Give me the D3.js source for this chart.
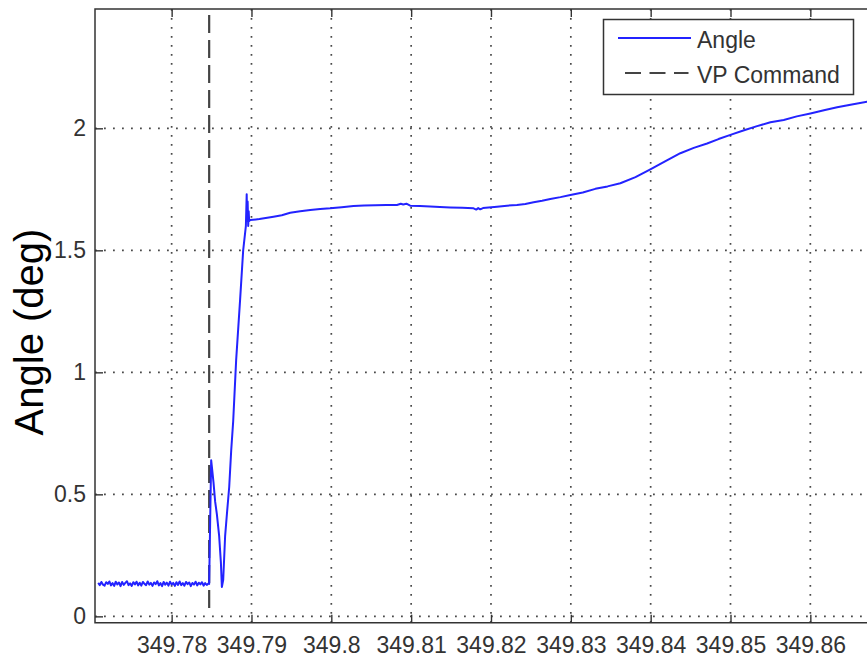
<!DOCTYPE html>
<html>
<head>
<meta charset="utf-8">
<script src="https://cdnjs.cloudflare.com/ajax/libs/d3/7.8.5/d3.min.js"></script>
<style>
  body { margin: 0; background: #fff; }
  svg { display: block; font-family: Arial, "Liberation Sans", sans-serif; }
</style>
</head>
<body>
<svg id="chart" width="867" height="657"></svg>
<script>
// values
var xTicks = [349.78, 349.79, 349.8, 349.81, 349.82, 349.83, 349.84, 349.85, 349.86];
var yTicks = [0, 0.5, 1, 1.5, 2];
var vpCommand = 349.7847;
var legendLabels = ["Angle", "VP Command"];

var time = [
  349.7708, 349.7710, 349.7712, 349.7714, 349.7716, 349.7718, 349.7720, 349.7722, 349.7724,
  349.7726, 349.7728, 349.7730, 349.7732, 349.7734, 349.7736, 349.7738, 349.7740, 349.7742,
  349.7744, 349.7746, 349.7748, 349.7750, 349.7752, 349.7754, 349.7756, 349.7758, 349.7760,
  349.7762, 349.7764, 349.7766, 349.7768, 349.7770, 349.7772, 349.7774, 349.7776, 349.7778,
  349.7780, 349.7782, 349.7784, 349.7786, 349.7788, 349.7790, 349.7792, 349.7794, 349.7796,
  349.7798, 349.7800, 349.7802, 349.7804, 349.7806, 349.7808, 349.7810, 349.7812, 349.7814,
  349.7816, 349.7818, 349.7820, 349.7822, 349.7824, 349.7826, 349.7828, 349.7830, 349.7832,
  349.7834, 349.7836, 349.7838, 349.7840, 349.7842, 349.7844, 349.7846, 349.7847,
  349.78483, 349.78495, 349.78508, 349.78524, 349.78545, 349.78566, 349.78595, 349.78617, 349.78629,
  349.78646, 349.78670, 349.78695, 349.78721, 349.78746, 349.78771, 349.78808, 349.78858, 349.78896,
  349.78930, 349.78940, 349.78946, 349.78952, 349.78959, 349.78965, 349.78971, 349.78984,
  349.79100, 349.79276, 349.79380, 349.79485, 349.79610, 349.79736, 349.79860, 349.79986, 349.80130,
  349.80278, 349.80410, 349.80550, 349.80690, 349.80822, 349.80870, 349.80901, 349.80940, 349.80988,
  349.81110, 349.81238, 349.81360, 349.81489, 349.81640, 349.81782, 349.81815, 349.81840, 349.81865,
  349.81900, 349.82075, 349.82200, 349.82325, 349.82430, 349.82534, 349.82640, 349.82743, 349.82870,
  349.82994, 349.83150, 349.83307, 349.83460, 349.83620, 349.83810, 349.83996, 349.84180, 349.84372,
  349.84540, 349.84707, 349.84850, 349.84999, 349.85170, 349.85333, 349.85500, 349.85667, 349.85830,
  349.86001, 349.86170, 349.86336, 349.86520, 349.86711, 349.86815
];
var angle = [
  0.137, 0.128, 0.141, 0.130, 0.126, 0.140, 0.133, 0.143, 0.127,
  0.136, 0.125, 0.142, 0.131, 0.139, 0.124, 0.141, 0.129, 0.137,
  0.144, 0.128, 0.135, 0.125, 0.140, 0.131, 0.142, 0.127, 0.138,
  0.126, 0.141, 0.133, 0.128, 0.143, 0.130, 0.137, 0.125, 0.139,
  0.132, 0.144, 0.127, 0.136, 0.124, 0.141, 0.130, 0.138, 0.126,
  0.142, 0.131, 0.137, 0.125, 0.140, 0.129, 0.143, 0.128, 0.136,
  0.126, 0.141, 0.132, 0.139, 0.124, 0.137, 0.130, 0.142, 0.127,
  0.138, 0.131, 0.140, 0.126, 0.136, 0.129, 0.134, 0.133,
  0.40, 0.64, 0.60, 0.55, 0.47, 0.42, 0.33, 0.22, 0.12,
  0.15, 0.33, 0.43, 0.53, 0.68, 0.80, 1.05, 1.30, 1.50,
  1.60, 1.73, 1.62, 1.70, 1.60, 1.66, 1.62, 1.624,
  1.628, 1.638, 1.644, 1.654, 1.660, 1.665, 1.669, 1.672, 1.677,
  1.682, 1.684, 1.685, 1.686, 1.686, 1.691, 1.688, 1.691, 1.683,
  1.682, 1.680, 1.678, 1.676, 1.674, 1.672, 1.667, 1.673, 1.668,
  1.673, 1.679, 1.683, 1.686, 1.690, 1.697, 1.703, 1.710, 1.718,
  1.727, 1.737, 1.752, 1.762, 1.775, 1.800, 1.832, 1.865, 1.898,
  1.920, 1.938, 1.956, 1.973, 1.992, 2.009, 2.025, 2.034, 2.049,
  2.061, 2.074, 2.086, 2.098, 2.109, 2.115
];

var svg = d3.select("#chart");
var frame = { left: 95, top: 9, right: 875, bottom: 622.7 };

var x = d3.scaleLinear().domain([349.7704, 349.8681]).range([frame.left, frame.right]);
var y = d3.scaleLinear().domain([-0.026, 2.489]).range([frame.bottom, frame.top]);

svg.append("rect").attr("width", 867).attr("height", 657).attr("fill", "#fff");

svg.append("clipPath").attr("id", "clip").append("rect")
  .attr("x", frame.left).attr("y", frame.top)
  .attr("width", frame.right - frame.left).attr("height", frame.bottom - frame.top);

// dotted grid
var grid = svg.append("g").attr("stroke", "#4a4a4a").attr("stroke-width", 1.7)
  .attr("stroke-dasharray", "1.8,7.2");
grid.selectAll(".gx").data(xTicks).enter().append("line")
  .attr("x1", d => x(d)).attr("x2", d => x(d))
  .attr("y1", frame.top).attr("y2", frame.bottom);
grid.selectAll(".gy").data(yTicks).enter().append("line")
  .attr("x1", frame.left).attr("x2", frame.right)
  .attr("y1", d => y(d)).attr("y2", d => y(d));

// VP command marker
svg.append("line")
  .attr("x1", x(vpCommand)).attr("x2", x(vpCommand))
  .attr("y1", y.range()[1]).attr("y2", y(0.02))
  .attr("stroke", "#444").attr("stroke-width", 2.2)
  .attr("stroke-dasharray", "18,7").attr("stroke-dashoffset", 19);

// angle trace
var line = d3.line().x((d, i) => x(time[i])).y(d => y(d));
svg.append("path").datum(angle)
  .attr("clip-path", "url(#clip)")
  .attr("d", line)
  .attr("fill", "none")
  .attr("stroke", "#2323ff")
  .attr("stroke-width", 2)
  .attr("stroke-linejoin", "round");

// axes
var xAxis = d3.axisBottom(x).tickValues(xTicks).tickSizeInner(-8).tickSizeOuter(0).tickPadding(14)
  .tickFormat(d => String(d));
var gx = svg.append("g").attr("transform", "translate(0," + frame.bottom + ")").call(xAxis);

var topAxis = d3.axisTop(x).tickValues(xTicks).tickSizeInner(-8).tickSizeOuter(0).tickFormat("");
var gt = svg.append("g").attr("transform", "translate(0," + frame.top + ")").call(topAxis);

var yAxis = d3.axisLeft(y).tickValues(yTicks).tickSizeInner(-8).tickSizeOuter(0).tickPadding(9)
  .tickFormat(d => String(d));
var gy = svg.append("g").attr("transform", "translate(" + frame.left + ",0)").call(yAxis);

[gx, gt, gy].forEach(function(g) {
  g.select(".domain").remove();
  g.selectAll(".tick line").attr("stroke", "#333").attr("stroke-width", 1.4);
  g.selectAll("text").attr("fill", "#333").style("font-size", "23px")
    .style("font-family", "Arial, 'Liberation Sans', sans-serif");
});

// box (right side falls outside the picture)
svg.append("path")
  .attr("d", "M" + frame.right + "," + frame.top + "H" + frame.left + "V" + frame.bottom + "H" + frame.right)
  .attr("fill", "none").attr("stroke", "#333").attr("stroke-width", 1.5);

// y label
svg.append("text")
  .attr("transform", "translate(43,332) rotate(-90)")
  .attr("text-anchor", "middle")
  .attr("fill", "#000")
  .style("font-size", "40px")
  .text("Angle (deg)");

// legend
var lg = svg.append("g").attr("transform", "translate(603.5,19.5)");
lg.append("rect").attr("width", 250).attr("height", 75)
  .attr("fill", "#fff").attr("stroke", "#333").attr("stroke-width", 1.5);
lg.append("line").attr("x1", 14.5).attr("x2", 87.5).attr("y1", 18.5).attr("y2", 18.5)
  .attr("stroke", "#2323ff").attr("stroke-width", 2);
lg.append("line").attr("x1", 21.5).attr("x2", 85).attr("y1", 53.5).attr("y2", 53.5)
  .attr("stroke", "#444").attr("stroke-width", 2).attr("stroke-dasharray", "16,8.5");
lg.selectAll("text").data(legendLabels).enter().append("text")
  .attr("x", 93.5)
  .attr("y", (d, i) => 28.5 + i * 35)
  .attr("fill", "#333")
  .style("font-size", "23px")
  .text(d => d);
</script>
</body>
</html>
